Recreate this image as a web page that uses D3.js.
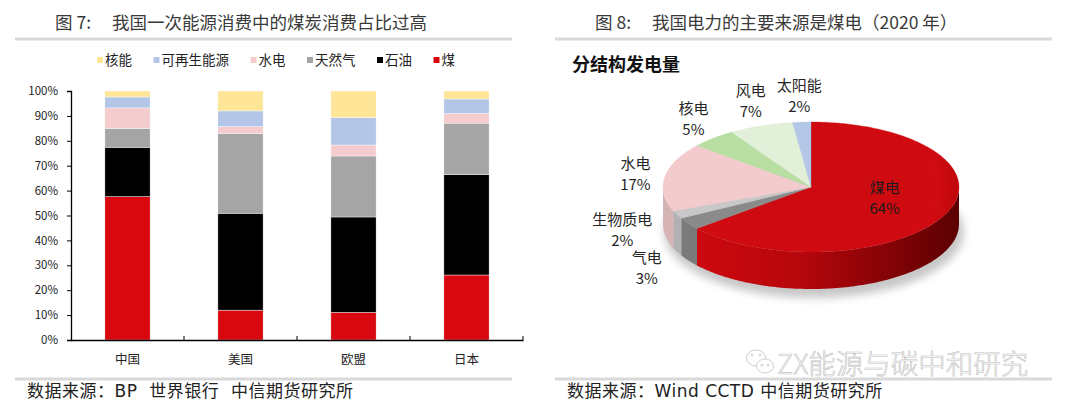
<!DOCTYPE html>
<html>
<head>
<meta charset="utf-8">
<script src="https://cdn.jsdelivr.net/npm/d3@7"></script>
<style>
  body { margin: 0; background: #fff; }
  text { font-family: "Noto Sans CJK SC", "Noto Sans", sans-serif; }
  .wide { font-family: "DejaVu Sans", "Noto Sans CJK SC", sans-serif; white-space: pre; letter-spacing: 0.5px; }
</style>
</head>
<body>
<svg id="chart" width="1080" height="412"></svg>
<script>
// 图7：一次能源消费结构（%）
var countries = ["中国", "美国", "欧盟", "日本"];
var coal    = [57.6, 12.0, 11.1, 26.1];
var oil     = [19.8, 38.9, 38.3, 40.3];
var gas     = [7.6, 32.1, 24.5, 20.7];
var hydro   = [8.2, 2.7, 4.4, 3.8];
var renew   = [4.4, 6.3, 11.0, 5.9];
var nuclear = [2.4, 8.0, 10.7, 3.2];
var yTicks = [0, 10, 20, 30, 40, 50, 60, 70, 80, 90, 100];
var legendNames = ["核能", "可再生能源", "水电", "天然气", "石油", "煤"];

// 图8：分结构发电量（2020年，%）
var powerSources = ["煤电", "气电", "生物质电", "水电", "核电", "风电", "太阳能"];
var powerShares  = [64, 3, 2, 17, 5, 7, 2];

function init() {
  var svg = d3.select('#chart');
  drawFrame(svg);
  stackedBarChart(svg);
  pieChart3d(svg);
}

function drawFrame(svg) {
  // titles
  var t1 = svg.append('text').attr('y', 29).attr('fill', '#3a3a3a').style('font-size', '17.5px');
  t1.append('tspan').attr('x', 55).text('图 7:');
  t1.append('tspan').attr('x', 112).text('我国一次能源消费中的煤炭消费占比过高');
  var t2 = svg.append('text').attr('y', 29).attr('fill', '#3a3a3a').style('font-size', '17.5px');
  t2.append('tspan').attr('x', 595).text('图 8:');
  t2.append('tspan').attr('x', 652).text('我国电力的主要来源是煤电（2020 年）');

  // grey rules
  [[15, 512, 39], [555, 1052, 39], [15, 512, 379], [555, 1052, 379]].forEach(function(l) {
    svg.append('line')
      .attr('x1', l[0]).attr('x2', l[1]).attr('y1', l[2]).attr('y2', l[2])
      .attr('stroke', '#d9d9d9').attr('stroke-width', 3);
  });

  // sources
  svg.append('text').attr('class', 'wide').attr('x', 27).attr('y', 397).attr('fill', '#222')
    .style('font-size', '17px').text('数据来源：BP  世界银行  中信期货研究所');
  svg.append('text').attr('class', 'wide').attr('x', 567).attr('y', 397).attr('fill', '#222')
    .style('font-size', '17px').text('数据来源：Wind CCTD 中信期货研究所');

  // watermark
  var wm = svg.append('g').attr('fill', '#fff').attr('stroke', '#c2c2c2').attr('stroke-width', 0.8);
  wm.append('ellipse').attr('cx', 756).attr('cy', 358).attr('rx', 9.5).attr('ry', 8);
  wm.append('ellipse').attr('cx', 765).attr('cy', 366).attr('rx', 8.5).attr('ry', 7);
  [[752, 355], [760, 355], [762, 365], [768, 365]].forEach(function(p) {
    wm.append('circle').attr('cx', p[0]).attr('cy', p[1]).attr('r', 1);
  });
  svg.append('text').attr('x', 777).attr('y', 374)
    .attr('fill', '#fff').attr('stroke', '#c0c0c0').attr('stroke-width', 0.6)
    .style('font-size', '27.5px').style('font-weight', 300)
    .text('ZX能源与碳中和研究');
}

function stackedBarChart(svg) {
  var keys = ["煤", "石油", "天然气", "水电", "可再生能源", "核能"];
  var series = [coal, oil, gas, hydro, renew, nuclear];
  var table = countries.map(function(c, i) {
    var row = { Name: c };
    keys.forEach(function(k, j) { row[k] = series[j][i]; });
    return row;
  });

  var color = d3.scaleOrdinal()
    .domain(keys)
    .range(["#d9070f", "#000000", "#a5a5a5", "#f4cccd", "#b4c6e7", "#ffe597"]);

  var xScale = d3.scaleBand()
    .domain(countries)
    .range([71, 523])
    .paddingInner(0.6)
    .paddingOuter(0.3);
  var yScale = d3.scaleLinear()
    .domain([0, 100])
    .range([340, 91]);

  var stacked = d3.stack().keys(keys)(table);

  svg.append('g')
    .selectAll('g')
    .data(stacked)
    .join('g')
    .attr('fill', function(d) { return color(d.key); })
    .selectAll('rect')
    .data(function(d) { return d; })
    .join('rect')
    .attr('x', function(d) { return xScale(d.data.Name); })
    .attr('y', function(d) { return yScale(d[1]); })
    .attr('height', function(d) { return yScale(d[0]) - yScale(d[1]); })
    .attr('width', xScale.bandwidth())
    .attr('stroke', '#fff').attr('stroke-width', 0.4);

  // y axis
  var yAxis = svg.append('g')
    .attr('transform', 'translate(71,0)')
    .call(d3.axisLeft(yScale).tickValues(yTicks).tickSize(4).tickPadding(9)
      .tickFormat(function(d) { return d + '%'; }));
  yAxis.select('.domain').attr('stroke', '#000').attr('stroke-width', 1.3);
  yAxis.selectAll('text').style('font-size', '11.5px').attr('fill', '#222');

  // x axis
  var xAxis = svg.append('g')
    .attr('transform', 'translate(0,340)')
    .call(d3.axisBottom(xScale).tickSize(0).tickPadding(15).tickSizeOuter(0));
  xAxis.select('.domain').attr('stroke', '#000').attr('stroke-width', 1.3);
  xAxis.selectAll('text').style('font-size', '12.5px').attr('fill', '#222');
  // category boundary ticks
  xAxis.selectAll('.bound')
    .data(countries)
    .join('line')
    .attr('class', 'bound')
    .attr('x1', function(d) { return xScale(d) - xScale.step() * 0.3 + xScale.step(); })
    .attr('x2', function(d) { return xScale(d) - xScale.step() * 0.3 + xScale.step(); })
    .attr('y1', 0).attr('y2', -4)
    .attr('stroke', '#000').attr('stroke-width', 1);

  // legend
  var lx = 97;
  legendNames.forEach(function(name) {
    svg.append('rect').attr('x', lx).attr('y', 57).attr('width', 6).attr('height', 6)
      .attr('fill', color(name));
    var t = svg.append('text').attr('x', lx + 8).attr('y', 65)
      .style('font-size', '13.5px').attr('fill', '#222').text(name);
    lx += 8 + t.node().getComputedTextLength() + 21.5;
  });
}

function pieChart3d(svg) {
  svg.append('text').attr('x', 572).attr('y', 71)
    .style('font-size', '18px').style('font-weight', 700).attr('fill', '#111')
    .text('分结构发电量');

  var cx = 811, cy = 187, rx = 148, ry = 65, depth = 37;
  var color = d3.scaleOrdinal()
    .domain(powerSources)
    .range(["#cf0a10", "#8a8a8a", "#c8c8c8", "#f3cbcd", "#b8dea2", "#e2efd9", "#b4c7e7"]);

  var data = powerSources.map(function(s, i) { return { name: s, value: powerShares[i] }; });
  var arcs = d3.pie().sort(null).value(function(d) { return d.value; })(data);

  function pt(a, k, dy) {
    return [cx + rx * k * Math.sin(a), cy - ry * k * Math.cos(a) + (dy || 0)];
  }

  var defs = svg.append('defs');
  defs.append('filter').attr('id', 'blur').attr('x', '-20%').attr('y', '-20%')
    .attr('width', '140%').attr('height', '140%')
    .append('feGaussianBlur').attr('stdDeviation', 4);
  var sideGrad = defs.append('linearGradient').attr('id', 'coalSide')
    .attr('gradientUnits', 'userSpaceOnUse')
    .attr('x1', cx - rx).attr('x2', cx + rx).attr('y1', 0).attr('y2', 0);
  sideGrad.append('stop').attr('offset', '0%').attr('stop-color', '#d20a10');
  sideGrad.append('stop').attr('offset', '45%').attr('stop-color', '#b8070c');
  sideGrad.append('stop').attr('offset', '100%').attr('stop-color', '#5c0002');
  var topGrad = defs.append('radialGradient').attr('id', 'coalTop')
    .attr('gradientUnits', 'userSpaceOnUse')
    .attr('cx', cx).attr('cy', cy).attr('r', rx);
  topGrad.append('stop').attr('offset', '0%').attr('stop-color', '#cc0a10');
  topGrad.append('stop').attr('offset', '85%').attr('stop-color', '#d00b11');
  topGrad.append('stop').attr('offset', '100%').attr('stop-color', '#c0080d');

  // shadow
  svg.append('ellipse')
    .attr('cx', cx + 3).attr('cy', cy + depth + 8).attr('rx', rx + 2).attr('ry', ry + 1)
    .attr('fill', '#000').attr('opacity', 0.22).attr('filter', 'url(#blur)');

  // side walls (front half only)
  function sidePath(d) {
    var a0 = Math.max(d.startAngle, Math.PI / 2), a1 = Math.min(d.endAngle, 3 * Math.PI / 2);
    if (a1 <= a0) return null;
    var n = Math.max(2, Math.ceil((a1 - a0) / 0.02)), i, a, up = [], down = [];
    for (i = 0; i <= n; i++) {
      a = a0 + (a1 - a0) * i / n;
      up.push(pt(a, 1));
      down.push(pt(a, 1, depth));
    }
    return 'M' + up.join('L') + 'L' + down.reverse().join('L') + 'Z';
  }
  function topPath(d) {
    var n = Math.max(2, Math.ceil((d.endAngle - d.startAngle) / 0.02)), i, pts = [];
    for (i = 0; i <= n; i++) pts.push(pt(d.startAngle + (d.endAngle - d.startAngle) * i / n, 1));
    return 'M' + cx + ',' + cy + 'L' + pts.join('L') + 'Z';
  }

  svg.append('g')
    .selectAll('path')
    .data(arcs.filter(function(d) { return sidePath(d); }))
    .join('path')
    .attr('d', sidePath)
    .attr('fill', function(d) {
      return d.index === 0 ? 'url(#coalSide)' : d3.color(color(d.data.name)).darker(0.35);
    });

  svg.append('g')
    .selectAll('path')
    .data(arcs)
    .join('path')
    .attr('d', topPath)
    .attr('fill', function(d) { return d.index === 0 ? 'url(#coalTop)' : color(d.data.name); })
    .attr('stroke', function(d) { return color(d.data.name); })
    .attr('stroke-width', 0.3);

  // labels: outside ones sit further out on the front half, past the wall
  var fs = 15, lineH = 21;
  var labels = arcs.map(function(d) {
    var a = (d.startAngle + d.endAngle) / 2;
    var w = Math.max(d.data.name.length * fs, 30);
    var x, y;
    if (d.data.value > 30) {
      var p = pt(a, 0.55);
      x = p[0]; y = p[1] - 5;
    } else {
      var k = 1.1 + 0.25 * Math.max(0, -Math.cos(a));
      var q = pt(a, k);
      x = q[0] + Math.sin(a) * w / 2;
      y = q[1] - Math.cos(a) * lineH;
    }
    return { d: d, x: x, y: y, w: w, inside: d.data.value > 30 };
  });
  var outside = labels.filter(function(l) { return !l.inside; })
    .sort(function(a, b) { return a.y - b.y; });
  outside.forEach(function(l, i) {
    for (var j = 0; j < i; j++) {
      var o = outside[j];
      if (Math.abs(o.x - l.x) < (o.w + l.w) / 2 && l.y - o.y < 2 * lineH - 4) l.y = o.y + 2 * lineH - 4;
    }
  });

  var lg = svg.append('g')
    .selectAll('text')
    .data(labels)
    .join('text')
    .attr('text-anchor', 'middle')
    .attr('fill', function(l) { return l.inside ? '#1a1a1a' : '#262626'; })
    .style('font-size', fs + 'px');
  lg.append('tspan')
    .attr('x', function(l) { return l.x; })
    .attr('y', function(l) { return l.y - 4; })
    .text(function(l) { return l.d.data.name; });
  lg.append('tspan')
    .attr('x', function(l) { return l.x; })
    .attr('y', function(l) { return l.y - 4 + lineH; })
    .text(function(l) { return l.d.data.value + '%'; });
}

window.onload = init;
</script>
</body>
</html>
